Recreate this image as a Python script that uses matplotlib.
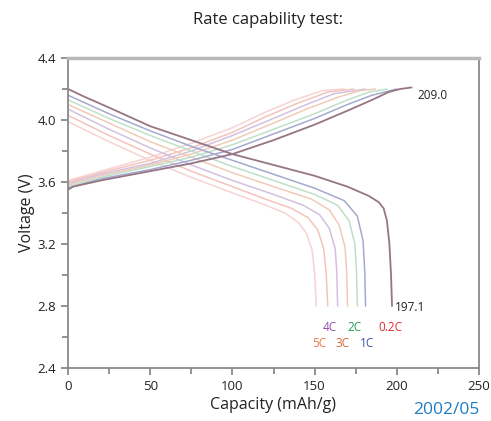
import matplotlib
matplotlib.use("Agg")
import matplotlib.pyplot as plt
from matplotlib.ticker import MultipleLocator

plt.rcParams['font.family'] = ['Open Sans', 'DejaVu Sans']

rates = ["0.2C", "1C", "2C", "3C", "4C", "5C", "extra"]
line_colors = ["#967584", "#a3aacd", "#bfe0c8", "#f1cbb8", "#d2c1df", "#f4c3bb", "#f7d3d3"]

# Discharge curves (capacity mAh/g, voltage V)
dis_cap_02C = [0, 10, 25, 50, 75, 100, 125, 150, 170, 183, 189, 192, 194, 195.5, 196.5, 197.1]
dis_v_02C = [4.20, 4.15, 4.08, 3.96, 3.87, 3.78, 3.71, 3.64, 3.57, 3.51, 3.47, 3.43, 3.35, 3.20, 3.00, 2.80]
dis_cap_1C = [0, 25, 50, 75, 100, 125, 150, 168, 176, 179.5, 180.5, 181]
dis_v_1C = [4.16, 4.04, 3.93, 3.83, 3.74, 3.65, 3.56, 3.48, 3.38, 3.22, 3.02, 2.80]
dis_cap_2C = [0, 25, 50, 75, 100, 125, 150, 164, 171, 174.5, 175.5, 176]
dis_v_2C = [4.13, 4.01, 3.90, 3.80, 3.70, 3.61, 3.52, 3.45, 3.35, 3.20, 3.02, 2.80]
dis_cap_3C = [0, 25, 50, 75, 100, 125, 148, 159, 165, 168.5, 169.5, 170]
dis_v_3C = [4.10, 3.98, 3.86, 3.76, 3.66, 3.57, 3.49, 3.42, 3.32, 3.18, 3.02, 2.80]
dis_cap_4C = [0, 25, 50, 75, 100, 125, 143, 153, 159, 162.5, 163.5, 164]
dis_v_4C = [4.07, 3.94, 3.82, 3.71, 3.61, 3.52, 3.45, 3.39, 3.30, 3.17, 3.02, 2.80]
dis_cap_5C = [0, 25, 50, 75, 100, 120, 136, 146, 152, 155.5, 157, 158]
dis_v_5C = [4.03, 3.90, 3.78, 3.67, 3.57, 3.49, 3.43, 3.37, 3.29, 3.17, 3.02, 2.80]
dis_cap_x = [0, 25, 50, 75, 100, 118, 132, 140, 145, 148.5, 150, 151]
dis_v_x = [3.99, 3.86, 3.74, 3.63, 3.53, 3.46, 3.40, 3.34, 3.27, 3.16, 3.02, 2.80]

# Charge curves
chg_cap_02C = [0, 3, 20, 50, 75, 100, 125, 150, 170, 185, 195, 202, 209]
chg_v_02C = [3.55, 3.57, 3.61, 3.67, 3.72, 3.78, 3.87, 3.97, 4.06, 4.13, 4.18, 4.20, 4.21]
chg_cap_1C = [0, 20, 50, 75, 100, 125, 150, 170, 185, 200]
chg_v_1C = [3.56, 3.62, 3.68, 3.74, 3.81, 3.91, 4.01, 4.10, 4.16, 4.20]
chg_cap_2C = [0, 20, 50, 75, 100, 125, 150, 170, 183, 194]
chg_v_2C = [3.57, 3.63, 3.70, 3.76, 3.84, 3.94, 4.04, 4.13, 4.18, 4.20]
chg_cap_3C = [0, 20, 50, 75, 100, 125, 145, 165, 178, 187]
chg_v_3C = [3.58, 3.64, 3.71, 3.78, 3.87, 3.98, 4.07, 4.15, 4.19, 4.20]
chg_cap_4C = [0, 20, 50, 75, 100, 125, 145, 162, 181]
chg_v_4C = [3.59, 3.65, 3.72, 3.80, 3.90, 4.01, 4.10, 4.17, 4.20]
chg_cap_5C = [0, 20, 50, 75, 100, 120, 140, 158, 174]
chg_v_5C = [3.60, 3.66, 3.74, 3.82, 3.92, 4.02, 4.11, 4.18, 4.20]
chg_cap_x = [0, 20, 50, 75, 100, 120, 138, 155, 168]
chg_v_x = [3.61, 3.67, 3.76, 3.85, 3.95, 4.05, 4.13, 4.19, 4.20]

discharge = [(dis_cap_02C, dis_v_02C), (dis_cap_1C, dis_v_1C), (dis_cap_2C, dis_v_2C),
             (dis_cap_3C, dis_v_3C), (dis_cap_4C, dis_v_4C), (dis_cap_5C, dis_v_5C),
             (dis_cap_x, dis_v_x)]
charge = [(chg_cap_02C, chg_v_02C), (chg_cap_1C, chg_v_1C), (chg_cap_2C, chg_v_2C),
          (chg_cap_3C, chg_v_3C), (chg_cap_4C, chg_v_4C), (chg_cap_5C, chg_v_5C),
          (chg_cap_x, chg_v_x)]

label_texts = ["4C", "2C", "0.2C", "5C", "3C", "1C"]
label_x = [159, 174, 196, 153, 167, 182]
label_y = [2.66, 2.66, 2.66, 2.56, 2.56, 2.56]
label_colors = ["#8e4fae", "#1f9e4e", "#e52a2a", "#ec7a44", "#d4683a", "#3a56a6"]

xticks = [0, 50, 100, 150, 200, 250]
yticks = [2.4, 2.8, 3.2, 3.6, 4.0, 4.4]

fig = plt.figure(figsize=(4.91, 4.21), dpi=100)
ax = fig.add_axes([68/491, 1-368/421, (479-68)/491, (368-58)/421])

for i in range(len(rates))[::-1]:
    c = line_colors[i]
    lw = 1.3 if i == 0 else 1.1
    ax.plot(discharge[i][0], discharge[i][1], color=c, lw=lw, solid_capstyle='round')
    ax.plot(charge[i][0], charge[i][1], color=c, lw=lw, solid_capstyle='round')

for t, x, y, c in zip(label_texts, label_x, label_y, label_colors):
    ax.text(x, y, t, color=c, fontsize=8.5, ha='center', va='center')

ax.text(208, 2.79, "197.1", fontsize=8.5, color="#222222", ha='center', va='center')
ax.text(222, 4.16, "209.0", fontsize=8.5, color="#222222", ha='center', va='center')

ax.set_xlim(0, 250)
ax.set_ylim(2.4, 4.4)
ax.set_xticks(xticks)
ax.set_yticks(yticks)
ax.set_yticklabels([f"{v:.1f}" for v in yticks])
ax.xaxis.set_minor_locator(MultipleLocator(25))
ax.yaxis.set_minor_locator(MultipleLocator(0.2))
ax.tick_params(which='both', direction='out', color='#808080', labelsize=9.5, labelcolor='#222222')
ax.tick_params(which='major', length=5, width=1.2)
ax.tick_params(which='minor', length=4, width=1.2)
for s in ax.spines.values():
    s.set_color('#8a8a8a')
    s.set_linewidth(1.3)
ax.spines['top'].set_color('#b8b8b8')
ax.spines['top'].set_linewidth(2.5)

ax.set_xlabel("Capacity (mAh/g)", fontsize=11.5, color='#222222', labelpad=3)
ax.set_ylabel("Voltage (V)", fontsize=11.5, color='#222222', labelpad=2)
fig.text(268/491, 1-20/421, "Rate capability test:", fontsize=12, color='#222222', ha='center', va='center')
fig.text(479/491, 1-410/421, "2002/05", fontsize=12.5, color='#1f7cc4', ha='right', va='center')

fig.savefig("out.png", dpi=100)
